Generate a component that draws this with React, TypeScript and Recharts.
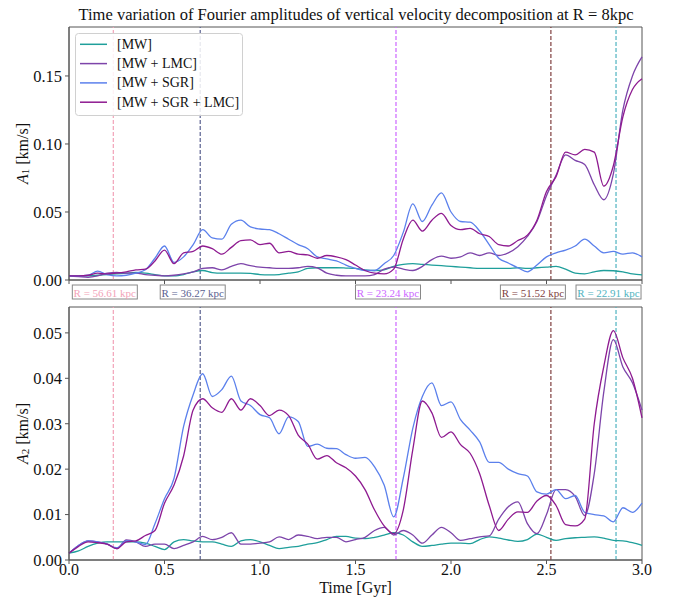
import React from 'react';
import { LineChart, Line, XAxis, YAxis, ReferenceLine, ReferenceArea } from 'recharts';

const times = [0, 0.05, 0.1, 0.15, 0.2, 0.25, 0.3, 0.35, 0.4, 0.45, 0.5, 0.55, 0.6, 0.65, 0.7, 0.75, 0.8, 0.85, 0.9, 0.95,
  1.0, 1.05, 1.1, 1.15, 1.2, 1.25, 1.3, 1.35, 1.4, 1.45, 1.5, 1.55, 1.6, 1.65, 1.7, 1.75, 1.8, 1.85, 1.9, 1.95,
  2.0, 2.05, 2.1, 2.15, 2.2, 2.25, 2.3, 2.35, 2.4, 2.45, 2.5, 2.55, 2.6, 2.65, 2.7, 2.75, 2.8, 2.85, 2.9, 2.95, 3.0];

// Top panel: A1
const a1MW = [0.003, 0.003, 0.003, 0.0035, 0.004, 0.0045, 0.005, 0.0055, 0.005, 0.004, 0.003, 0.003, 0.004, 0.006, 0.007, 0.0055, 0.005, 0.005, 0.005, 0.0048,
  0.004, 0.0038, 0.004, 0.005, 0.006, 0.0085, 0.009, 0.009, 0.009, 0.0088, 0.0085, 0.0075, 0.007, 0.0075, 0.01, 0.0115, 0.012, 0.0115, 0.011, 0.0105,
  0.01, 0.0095, 0.009, 0.0085, 0.0085, 0.0085, 0.0085, 0.009, 0.0085, 0.009, 0.0095, 0.01, 0.008, 0.005, 0.0045, 0.006, 0.007, 0.0068, 0.006, 0.0045, 0.0037];
const a1LMC = [0.003, 0.0025, 0.002, 0.003, 0.005, 0.0055, 0.005, 0.005, 0.004, 0.0035, 0.003, 0.0035, 0.0045, 0.006, 0.0085, 0.009, 0.0075, 0.01, 0.012, 0.0105,
  0.0095, 0.009, 0.0085, 0.0085, 0.009, 0.01, 0.009, 0.005, 0.0035, 0.003, 0.003, 0.003, 0.004, 0.008, 0.0095, 0.008, 0.007, 0.01, 0.015, 0.0175,
  0.016, 0.017, 0.02, 0.018, 0.02, 0.018, 0.02, 0.0245, 0.032, 0.043, 0.062, 0.077, 0.092, 0.088, 0.085, 0.07, 0.059, 0.078, 0.125, 0.15, 0.164];
const a1SGR = [0.003, 0.003, 0.0035, 0.0065, 0.004, 0.003, 0.0035, 0.005, 0.0075, 0.016, 0.025, 0.013, 0.017, 0.026, 0.037, 0.031, 0.03, 0.041, 0.044, 0.039,
  0.0375, 0.037, 0.034, 0.03, 0.026, 0.023, 0.017, 0.0155, 0.014, 0.011, 0.0085, 0.007, 0.007, 0.012, 0.018, 0.035, 0.056, 0.043, 0.055, 0.064,
  0.05, 0.043, 0.0425, 0.036, 0.026, 0.016, 0.0125, 0.009, 0.006, 0.011, 0.017, 0.02, 0.022, 0.025, 0.03, 0.025, 0.02, 0.021, 0.019, 0.02, 0.017];
const a1SGRLMC = [0.003, 0.003, 0.0035, 0.005, 0.0045, 0.005, 0.006, 0.0074, 0.008, 0.014, 0.022, 0.012, 0.02, 0.021, 0.025, 0.023, 0.019, 0.024, 0.029, 0.0295,
  0.026, 0.027, 0.02, 0.021, 0.019, 0.0185, 0.016, 0.018, 0.017, 0.015, 0.011, 0.007, 0.005, 0.0045, 0.008, 0.03, 0.044, 0.036, 0.044, 0.049,
  0.04, 0.037, 0.038, 0.034, 0.032, 0.026, 0.025, 0.029, 0.033, 0.044, 0.065, 0.076, 0.094, 0.092, 0.096, 0.094, 0.069, 0.084, 0.12, 0.14, 0.148];

// Bottom panel: A2
const a2MW = [0.0015, 0.002, 0.003, 0.0037, 0.004, 0.004, 0.004, 0.004, 0.0037, 0.003, 0.0023, 0.004, 0.0045, 0.0042, 0.004, 0.004, 0.0035, 0.003, 0.0042, 0.0045,
  0.004, 0.0032, 0.0025, 0.0028, 0.003, 0.0035, 0.0038, 0.0045, 0.0052, 0.0052, 0.0048, 0.0047, 0.005, 0.0055, 0.006, 0.0055, 0.004, 0.003, 0.0032, 0.0035,
  0.0037, 0.0037, 0.0036, 0.0045, 0.0051, 0.0048, 0.0044, 0.0041, 0.0045, 0.0057, 0.005, 0.0043, 0.0047, 0.0049, 0.005, 0.0051, 0.0048, 0.0043, 0.0042, 0.0038, 0.0032];
const a2LMC = [0.0015, 0.0032, 0.0042, 0.004, 0.0035, 0.0025, 0.0044, 0.004, 0.003, 0.0035, 0.0035, 0.0025, 0.0032, 0.004, 0.0052, 0.0045, 0.005, 0.006, 0.0035, 0.0035,
  0.0037, 0.004, 0.0051, 0.0045, 0.0055, 0.0052, 0.0047, 0.005, 0.005, 0.004, 0.0045, 0.005, 0.0065, 0.0072, 0.0055, 0.0065, 0.0055, 0.0037, 0.0055, 0.0072,
  0.006, 0.0043, 0.0047, 0.0051, 0.0053, 0.009, 0.0117, 0.0128, 0.008, 0.0058, 0.01, 0.0155, 0.0155, 0.014, 0.0098, 0.019, 0.037, 0.0485, 0.0425, 0.039, 0.033];
const a2SGR = [0.0015, 0.0032, 0.0042, 0.004, 0.0035, 0.0027, 0.0042, 0.004, 0.0034, 0.008, 0.0135, 0.018, 0.0294, 0.0364, 0.041, 0.036, 0.0375, 0.0405, 0.035, 0.034,
  0.032, 0.0313, 0.0278, 0.0315, 0.0305, 0.025, 0.0255, 0.0246, 0.0245, 0.0232, 0.0224, 0.0226, 0.0205, 0.0165, 0.0095, 0.018, 0.029, 0.036, 0.039, 0.034,
  0.0348, 0.0309, 0.0286, 0.026, 0.0215, 0.0215, 0.02, 0.019, 0.0185, 0.015, 0.0145, 0.0155, 0.0135, 0.0142, 0.0105, 0.01, 0.0097, 0.0084, 0.0115, 0.0105, 0.0125];
const a2SGRLMC = [0.0015, 0.003, 0.004, 0.0038, 0.0035, 0.0025, 0.004, 0.0042, 0.0054, 0.0065, 0.0125, 0.0165, 0.0229, 0.033, 0.0355, 0.0335, 0.0325, 0.0355, 0.033, 0.0355,
  0.034, 0.0318, 0.033, 0.0318, 0.0275, 0.0255, 0.0222, 0.023, 0.0214, 0.0203, 0.0185, 0.0155, 0.011, 0.0075, 0.0058, 0.011, 0.0243, 0.035, 0.0324, 0.027,
  0.0282, 0.0254, 0.0235, 0.019, 0.012, 0.0065, 0.009, 0.0106, 0.0105, 0.013, 0.0142, 0.012, 0.0078, 0.0075, 0.009, 0.03, 0.0426, 0.0505, 0.0445, 0.04, 0.0313];

const seriesNames = ['[MW]', '[MW + LMC]', '[MW + SGR]', '[MW + SGR + LMC]'];
const seriesKeys = ['mw', 'lmc', 'sgr', 'sgrlmc'];
const seriesColors = ['#1f9f9b', '#7d44aa', '#5b80ec', '#8e1a90'];

const eventTimes = [0.232, 0.687, 1.712, 2.523, 2.864];
const eventLabels = ['R = 56.61 kpc', 'R = 36.27 kpc', 'R = 23.24 kpc', 'R = 51.52 kpc', 'R = 22.91 kpc'];
const eventColors = ['#f2a3b8', '#5a6190', '#cc66ff', '#7f3f3f', '#4fb3c0'];
const eventLabelShift = [-8.5, -7.5, -8, -18, -7.5];

const xTicks = [0, 0.5, 1.0, 1.5, 2.0, 2.5, 3.0];
const a1Ticks = [0, 0.05, 0.1, 0.15];
const a2Ticks = [0, 0.01, 0.02, 0.03, 0.04, 0.05];
const a1Max = 0.186;
const a2Max = 0.0557;

const topData = times.map((t, i) => ({ t, mw: a1MW[i], lmc: a1LMC[i], sgr: a1SGR[i], sgrlmc: a1SGRLMC[i] }));
const bottomData = times.map((t, i) => ({ t, mw: a2MW[i], lmc: a2LMC[i], sgr: a2SGR[i], sgrlmc: a2SGRLMC[i] }));

const FONT = '"Liberation Serif", "DejaVu Serif", serif';
const AXIS = '#555';

const YLabel = (props: any) => {
  const vb = props.viewBox || {};
  const cy = vb.y + vb.height / 2;
  return (
    <text x={22} y={cy} transform={`rotate(-90, 22, ${cy})`} textAnchor="middle" dominantBaseline="central"
      fontFamily={FONT} fontSize={16} fill="#111">
      <tspan fontStyle="italic">A</tspan>
      <tspan fontSize={11} dy={3}>{props.sub}</tspan>
      <tspan dy={-3}> [km/s]</tspan>
    </text>
  );
};

const XLabel = (props: any) => {
  const vb = props.viewBox || {};
  return (
    <text x={vb.x + vb.width / 2} y={vb.y + 33} textAnchor="middle" fontFamily={FONT} fontSize={16} fill="#111">
      Time [Gyr]
    </text>
  );
};

const EventBox = (props: any) => {
  const vb = props.viewBox || {};
  const cx = vb.x + props.shift;
  const top = vb.y + vb.height + 5;
  return (
    <g>
      <rect x={cx - 32.5} y={top} width={65} height={14} fill="#fff" stroke="#888" strokeWidth={1} />
      <text x={cx} y={top + 7.5} textAnchor="middle" dominantBaseline="central" fontFamily={FONT} fontSize={11} fill={props.color}>
        {props.text}
      </text>
    </g>
  );
};

const LegendBox = () => (
  <svg width={168} height={83} style={{ position: 'absolute', left: 75, top: 33 }}>
    <rect x={0.5} y={0.5} width={167} height={82} rx={3} fill="rgba(255,255,255,0.85)" stroke="#d0d0d0" />
    {seriesNames.map((n, i) => (
      <g key={n}>
        <line x1={5} x2={32} y1={11.3 + i * 19.3} y2={11.3 + i * 19.3} stroke={seriesColors[i]} strokeWidth={1.5} />
        <text x={42} y={11.3 + i * 19.3} dominantBaseline="central" fontFamily={FONT} fontSize={14} fill="#111">{n}</text>
      </g>
    ))}
  </svg>
);

const yTickStyle = { fontFamily: FONT, fontSize: 16.5, fill: '#111' };
const xTickStyle = { fontFamily: FONT, fontSize: 16, fill: '#111' };

export default function App() {
  return (
    <div style={{ position: 'absolute', left: 0, top: 0, width: 673, height: 597, background: '#fff' }}>
      <div style={{ position: 'absolute', left: 0, top: 0 }}>
        <LineChart width={673} height={300} data={topData} margin={{ top: 27, right: 31, left: 0, bottom: 0 }}>
          <text x={356} y={14} textAnchor="middle" dominantBaseline="central" fontFamily={FONT} fontSize={16.5} fill="#111">
            Time variation of Fourier amplitudes of vertical velocity decomposition at R = 8kpc
          </text>
          <XAxis dataKey="t" type="number" domain={[0, 3]} ticks={xTicks} tickFormatter={() => ''} height={20}
            stroke={AXIS} tickSize={4} axisLine={{ stroke: AXIS }} tickLine={{ stroke: AXIS }} />
          <YAxis type="number" domain={[0, a1Max]} ticks={a1Ticks} width={69} tickSize={4} tickMargin={3}
            tickFormatter={(v: number) => v.toFixed(2)} tick={yTickStyle} stroke={AXIS}
            label={(p: any) => <YLabel {...p} sub="1" />} />
          <ReferenceArea x1={0} x2={3} y1={0} y2={a1Max} fill="none" stroke={AXIS} strokeWidth={1} ifOverflow="visible" />
          {eventTimes.map((t, i) => (
            <ReferenceLine key={i} x={t} stroke={eventColors[i]} strokeDasharray="4 2" strokeWidth={1.2}
              label={(p: any) => <EventBox {...p} shift={eventLabelShift[i]} text={eventLabels[i]} color={eventColors[i]} />} />
          ))}
          {seriesKeys.map((k, i) => (
            <Line key={k} dataKey={k} name={seriesNames[i]} stroke={seriesColors[i]} strokeWidth={1.3} dot={false}
              type="monotone" isAnimationActive={false} />
          ))}
        </LineChart>
        <LegendBox />
      </div>
      <div style={{ position: 'absolute', left: 0, top: 300 }}>
        <LineChart width={673} height={297} data={bottomData} margin={{ top: 7, right: 31, left: 0, bottom: 0 }}>
          <XAxis dataKey="t" type="number" domain={[0, 3]} ticks={xTicks} tickFormatter={(v: number) => v.toFixed(1)} height={37}
            stroke={AXIS} tickSize={4} tickMargin={0} tick={xTickStyle} axisLine={{ stroke: AXIS }} tickLine={{ stroke: AXIS }}
            label={(p: any) => <XLabel {...p} />} />
          <YAxis type="number" domain={[0, a2Max]} ticks={a2Ticks} width={69} tickSize={4} tickMargin={3}
            tickFormatter={(v: number) => v.toFixed(2)} tick={yTickStyle} stroke={AXIS}
            label={(p: any) => <YLabel {...p} sub="2" />} />
          <ReferenceArea x1={0} x2={3} y1={0} y2={a2Max} fill="none" stroke={AXIS} strokeWidth={1} ifOverflow="visible" />
          {eventTimes.map((t, i) => (
            <ReferenceLine key={i} x={t} stroke={eventColors[i]} strokeDasharray="4 2" strokeWidth={1.2} />
          ))}
          {seriesKeys.map((k, i) => (
            <Line key={k} dataKey={k} name={seriesNames[i]} stroke={seriesColors[i]} strokeWidth={1.3} dot={false}
              type="monotone" isAnimationActive={false} />
          ))}
        </LineChart>
      </div>
    </div>
  );
}
